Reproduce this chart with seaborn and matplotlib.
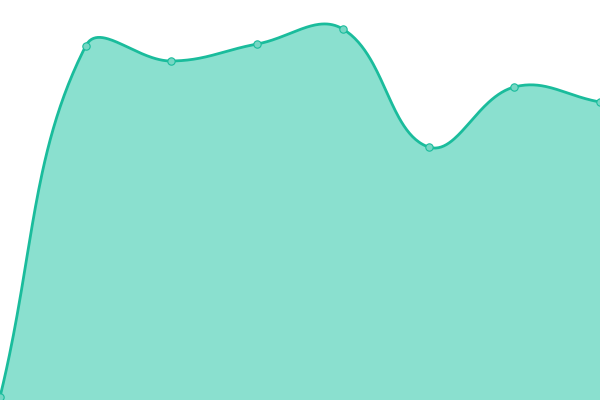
import numpy as np
import matplotlib
matplotlib.use("Agg")
import matplotlib.pyplot as plt
import seaborn as sns
import pandas as pd

categories = ["A", "B", "C", "D", "E", "F", "G", "H"]
values = [3, 354, 339, 356, 371, 253, 313, 298]

LINE = "#1abc9c"
FILL = "#8ae0cf"
MARK = "#76d7c4"

sns.set_theme(style="white")
fig = plt.figure(figsize=(6, 4), dpi=100)
ax = fig.add_axes([0, 0, 1, 1])
x = np.arange(len(values), dtype=float)
y = np.array(values, dtype=float)
ax.set_xlim(0, len(values) - 1)
ax.set_ylim(0, 400)
ax.axis("off")

# Chart.js-like bezier smoothing (tension 0.4) computed in pixel space
sx = 600 / (len(values) - 1)
px, py = x * sx, y
t = 0.4
cps = []
n = len(px)
for i in range(n):
    p0 = (px[max(i - 1, 0)], py[max(i - 1, 0)])
    p1 = (px[i], py[i])
    p2 = (px[min(i + 1, n - 1)], py[min(i + 1, n - 1)])
    d01 = np.hypot(p1[0] - p0[0], p1[1] - p0[1])
    d12 = np.hypot(p2[0] - p1[0], p2[1] - p1[1])
    s = d01 + d12
    fa = t * d01 / s if s else 0
    fb = t * d12 / s if s else 0
    prev = (p1[0] - fa * (p2[0] - p0[0]), p1[1] - fa * (p2[1] - p0[1]))
    nxt = (p1[0] + fb * (p2[0] - p0[0]), p1[1] + fb * (p2[1] - p0[1]))
    prev = (min(max(prev[0], 0), 600), min(max(prev[1], 0), 400))
    nxt = (min(max(nxt[0], 0), 600), min(max(nxt[1], 0), 400))
    cps.append((prev, nxt))

cx, cy = [], []
tt = np.linspace(0, 1, 60)
for i in range(n - 1):
    P0 = np.array([px[i], py[i]])
    P1 = np.array(cps[i][1])
    P2 = np.array(cps[i + 1][0])
    P3 = np.array([px[i + 1], py[i + 1]])
    b = ((1 - tt) ** 3)[:, None] * P0 + (3 * (1 - tt) ** 2 * tt)[:, None] * P1 \
        + (3 * (1 - tt) * tt ** 2)[:, None] * P2 + (tt ** 3)[:, None] * P3
    cx.extend(b[:, 0] / sx)
    cy.extend(b[:, 1])
cx, cy = np.array(cx), np.array(cy)

ax.fill_between(cx, 0, cy, color=FILL, linewidth=0, zorder=1)
ax.plot(cx, cy, color=LINE, linewidth=2.0, zorder=2, solid_capstyle="round")
df = pd.DataFrame({"x": x, "y": y, "cat": categories})
sns.scatterplot(data=df, x="x", y="y", ax=ax, s=28, color=MARK,
                edgecolor=LINE, linewidth=0.8, zorder=3, clip_on=False)
ax.set_xlim(0, len(values) - 1)
ax.set_ylim(0, 400)
ax.axis("off")
fig.savefig("out.png", dpi=100)
